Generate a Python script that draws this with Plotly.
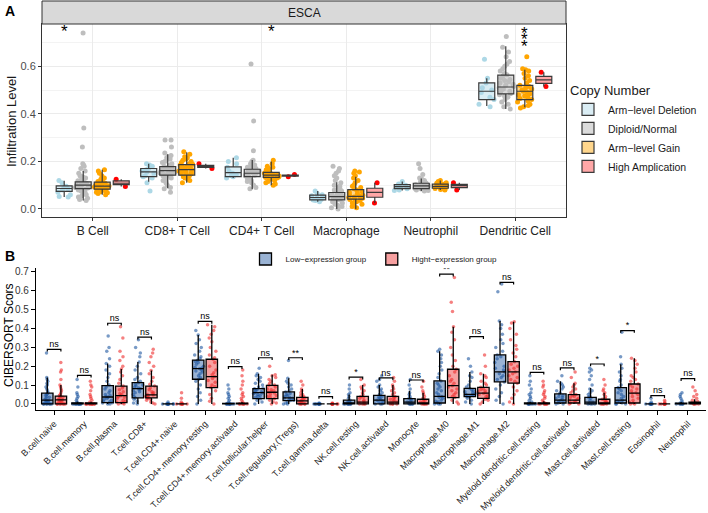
import plotly.graph_objects as go

FONT = "Liberation Sans, Arial, sans-serif"

# ---------------- panel A : ESCA infiltration by copy number ----------------
cells_a = ["B Cell", "CD8+ T Cell", "CD4+ T Cell", "Macrophage", "Neutrophil", "Dendritic Cell"]
groups_a = ["Arm−level Deletion", "Diploid/Normal", "Arm−level Gain", "High Amplication"]

del_q1 = [0.074, 0.136, 0.136, 0.038, 0.085, 0.460]
del_med = [0.086, 0.156, 0.153, 0.048, 0.094, 0.495]
del_q3 = [0.097, 0.170, 0.177, 0.058, 0.102, 0.530]
del_lo = [0.050, 0.114, 0.130, 0.030, 0.078, 0.433]
del_hi = [0.119, 0.190, 0.215, 0.075, 0.115, 0.550]

dip_q1 = [0.085, 0.142, 0.136, 0.038, 0.085, 0.484]
dip_med = [0.100, 0.161, 0.150, 0.052, 0.097, 0.513]
dip_q3 = [0.114, 0.178, 0.167, 0.069, 0.108, 0.563]
dip_lo = [0.035, 0.087, 0.083, 0.000, 0.075, 0.420]
dip_hi = [0.160, 0.230, 0.206, 0.112, 0.128, 0.684]

gain_q1 = [0.083, 0.142, 0.133, 0.041, 0.087, 0.460]
gain_med = [0.096, 0.165, 0.142, 0.053, 0.095, 0.495]
gain_q3 = [0.113, 0.186, 0.154, 0.081, 0.104, 0.520]
gain_lo = [0.060, 0.110, 0.100, 0.000, 0.080, 0.428]
gain_hi = [0.165, 0.238, 0.200, 0.135, 0.120, 0.585]

amp_q1 = [0.102, 0.175, 0.138, 0.049, 0.090, 0.528]
amp_med = [0.108, 0.179, 0.140, 0.070, 0.098, 0.543]
amp_q3 = [0.118, 0.183, 0.142, 0.087, 0.103, 0.558]
amp_lo = [0.094, 0.170, 0.135, 0.025, 0.080, 0.515]
amp_hi = [0.125, 0.190, 0.145, 0.110, 0.110, 0.575]

del_pts = [
    [0.12, 0.11, 0.095, 0.09, 0.085, 0.08, 0.07, 0.06, 0.052, 0.05],
    [0.19, 0.185, 0.18, 0.17, 0.165, 0.16, 0.155, 0.15, 0.14, 0.135, 0.13, 0.11, 0.075],
    [0.215, 0.2, 0.19, 0.175, 0.16, 0.15, 0.145, 0.14, 0.135, 0.13],
    [0.075, 0.065, 0.06, 0.055, 0.05, 0.045, 0.04, 0.038, 0.035, 0.03],
    [0.115, 0.105, 0.1, 0.095, 0.09, 0.085, 0.08, 0.078],
    [0.63, 0.55, 0.53, 0.51, 0.5, 0.49, 0.47, 0.46, 0.44, 0.43],
]
dip_pts = [
    [0.74, 0.34, 0.26, 0.19, 0.185, 0.18, 0.17, 0.16, 0.15, 0.14, 0.135, 0.13, 0.125, 0.12, 0.118, 0.115,
     0.11, 0.108, 0.105, 0.1, 0.1, 0.098, 0.095, 0.092, 0.09, 0.088, 0.085, 0.082, 0.08, 0.075, 0.07,
     0.065, 0.06, 0.055, 0.05, 0.045, 0.04, 0.035],
    [0.29, 0.29, 0.26, 0.235, 0.225, 0.22, 0.215, 0.21, 0.2, 0.195, 0.19, 0.185, 0.18, 0.178, 0.175, 0.17,
     0.168, 0.165, 0.162, 0.16, 0.158, 0.155, 0.152, 0.15, 0.148, 0.145, 0.142, 0.14, 0.135, 0.13, 0.125,
     0.12, 0.11, 0.1, 0.09, 0.085, 0.07],
    [0.61, 0.37, 0.245, 0.205, 0.2, 0.19, 0.185, 0.18, 0.175, 0.17, 0.168, 0.165, 0.16, 0.158, 0.155,
     0.152, 0.15, 0.148, 0.145, 0.142, 0.14, 0.138, 0.135, 0.13, 0.125, 0.12, 0.115, 0.11, 0.1, 0.09, 0.085],
    [0.18, 0.17, 0.16, 0.15, 0.14, 0.13, 0.12, 0.11, 0.1, 0.095, 0.09, 0.085, 0.08, 0.075, 0.07, 0.068,
     0.065, 0.062, 0.06, 0.058, 0.055, 0.052, 0.05, 0.048, 0.045, 0.042, 0.04, 0.038, 0.035, 0.032, 0.03,
     0.025, 0.02, 0.015, 0.01, 0.005, 0.0],
    [0.19, 0.17, 0.145, 0.13, 0.125, 0.12, 0.115, 0.112, 0.11, 0.108, 0.105, 0.102, 0.1, 0.098, 0.096,
     0.094, 0.092, 0.09, 0.088, 0.086, 0.084, 0.082, 0.08, 0.078, 0.075],
    [0.725, 0.68, 0.66, 0.64, 0.62, 0.61, 0.6, 0.59, 0.58, 0.57, 0.565, 0.56, 0.55, 0.545, 0.54, 0.535,
     0.53, 0.525, 0.52, 0.515, 0.51, 0.505, 0.5, 0.495, 0.49, 0.485, 0.48, 0.475, 0.47, 0.46, 0.45, 0.44,
     0.43, 0.42],
]
gain_pts = [
    [0.165, 0.16, 0.15, 0.14, 0.13, 0.125, 0.12, 0.115, 0.112, 0.11, 0.108, 0.105, 0.102, 0.1, 0.098,
     0.096, 0.094, 0.092, 0.09, 0.088, 0.086, 0.084, 0.082, 0.08, 0.078, 0.075, 0.072, 0.07, 0.068, 0.065, 0.06],
    [0.24, 0.23, 0.22, 0.215, 0.21, 0.205, 0.2, 0.195, 0.19, 0.188, 0.185, 0.18, 0.178, 0.175, 0.172, 0.17,
     0.168, 0.165, 0.162, 0.16, 0.158, 0.155, 0.152, 0.15, 0.148, 0.145, 0.14, 0.135, 0.13, 0.125, 0.12, 0.11],
    [0.205, 0.19, 0.18, 0.175, 0.17, 0.165, 0.16, 0.158, 0.155, 0.152, 0.15, 0.148, 0.145, 0.142, 0.14,
     0.138, 0.136, 0.134, 0.132, 0.13, 0.128, 0.125, 0.12, 0.115, 0.11, 0.105, 0.1],
    [0.16, 0.155, 0.15, 0.14, 0.13, 0.12, 0.11, 0.1, 0.095, 0.09, 0.085, 0.08, 0.075, 0.07, 0.065, 0.06,
     0.058, 0.055, 0.052, 0.05, 0.048, 0.045, 0.042, 0.04, 0.035, 0.03, 0.025, 0.02, 0.015, 0.01, 0.005],
    [0.12, 0.115, 0.11, 0.108, 0.105, 0.103, 0.1, 0.098, 0.096, 0.094, 0.092, 0.09, 0.088, 0.086, 0.084,
     0.082, 0.08],
    [0.64, 0.59, 0.585, 0.58, 0.57, 0.56, 0.55, 0.54, 0.53, 0.52, 0.515, 0.51, 0.505, 0.5, 0.495, 0.49,
     0.485, 0.48, 0.475, 0.47, 0.465, 0.46, 0.455, 0.45, 0.44, 0.435, 0.43, 0.425],
]
amp_pts = [
    [0.125, 0.094],
    [0.19, 0.17],
    [0.145, 0.135],
    [0.11, 0.025],
    [0.11, 0.08],
    [0.575, 0.515],
]

sig_a = ["*", "", "*", "", "", "***"]
sig_grp_a = [0, 0, 2, 0, 0, 2]
sig_y_a = [0.745, 0, 0.745, 0, 0, 0.712]

# ---------------- panel B : CIBERSORT low vs high expression ----------------
cells_b = ["B.cell.naive", "B.cell.memory", "B.cell.plasma", "T.cell.CD8+", "T.cell.CD4+.naive",
           "T.cell.CD4+.memory.resting", "T.cell.CD4+.memory.activated", "T.cell.follicular.helper",
           "T.cell.regulatory.(Tregs)", "T.cell.gamma.delta", "NK.cell.resting", "NK.cell.activated",
           "Monocyte", "Macrophage.M0", "Macrophage.M1", "Macrophage.M2", "Myeloid.dendritic.cell.resting",
           "Myeloid.dendritic.cell.activated", "Mast.cell.activated", "Mast.cell.resting", "Eosinophil",
           "Neutrophil"]
groups_b = ["Low−expression group", "Hight−expression group"]

low_q1 = [0, 0, 0.007, 0.032, 0, 0.131, 0, 0.028, 0.018, 0, 0, 0, 0, 0.005, 0.039, 0.117, 0, 0.005, 0, 0.005, 0, 0]
low_med = [0.02, 0, 0.037, 0.081, 0, 0.187, 0, 0.06, 0.032, 0, 0, 0.02, 0.01, 0.04, 0.051, 0.17, 0, 0.02, 0.01, 0.02, 0, 0]
low_q3 = [0.057, 0.005, 0.097, 0.113, 0, 0.232, 0.003, 0.081, 0.064, 0, 0.02, 0.046, 0.028, 0.122, 0.083, 0.26,
          0.005, 0.053, 0.035, 0.087, 0, 0.004]
low_lo = [0] * 22
low_hi = [0.14, 0.012, 0.215, 0.223, 0, 0.366, 0.007, 0.16, 0.136, 0, 0.05, 0.1, 0.07, 0.28, 0.17, 0.44, 0.012,
          0.12, 0.085, 0.21, 0, 0.01]

high_q1 = [0, 0, 0.007, 0.032, 0, 0.087, 0, 0.028, 0, 0, 0, 0, 0, 0.034, 0.03, 0.11, 0, 0.005, 0, 0.005, 0, 0]
high_med = [0.022, 0, 0.044, 0.048, 0, 0.145, 0, 0.062, 0.016, 0, 0.01, 0.01, 0.005, 0.097, 0.057, 0.17, 0, 0.02,
            0.005, 0.057, 0, 0]
high_q3 = [0.042, 0.005, 0.095, 0.095, 0, 0.237, 0.004, 0.099, 0.035, 0, 0.04, 0.04, 0.025, 0.184, 0.088, 0.224,
           0.006, 0.05, 0.025, 0.106, 0, 0.01]
high_lo = [0] * 22
high_hi = [0.1, 0.012, 0.185, 0.177, 0, 0.42, 0.01, 0.155, 0.08, 0, 0.1, 0.1, 0.06, 0.41, 0.16, 0.436, 0.015,
           0.11, 0.06, 0.242, 0, 0.025]

low_pts = [
    [0.27, 0.14, 0.13, 0.12, 0.11, 0.1, 0.09, 0.08, 0.07, 0.06, 0.055, 0.05, 0.045, 0.04, 0.035, 0.03, 0.025,
     0.02, 0.02, 0.015, 0.01, 0.01, 0.005, 0, 0, 0, 0, 0, 0, 0],
    [0.13, 0.09, 0.06, 0.05, 0.04, 0.03, 0.02, 0.01, 0.005, 0, 0, 0, 0, 0, 0, 0, 0, 0, 0, 0],
    [0.36, 0.3, 0.28, 0.24, 0.215, 0.2, 0.18, 0.16, 0.14, 0.12, 0.1, 0.09, 0.08, 0.07, 0.06, 0.05, 0.045, 0.04,
     0.037, 0.03, 0.025, 0.02, 0.015, 0.01, 0.007, 0.005, 0, 0],
    [0.34, 0.3, 0.27, 0.25, 0.223, 0.2, 0.18, 0.16, 0.14, 0.13, 0.12, 0.113, 0.105, 0.1, 0.095, 0.09, 0.085,
     0.081, 0.075, 0.07, 0.065, 0.06, 0.05, 0.04, 0.032, 0.025, 0.015, 0.005, 0],
    [0.01, 0, 0, 0, 0, 0, 0, 0, 0, 0, 0],
    [0.39, 0.366, 0.34, 0.32, 0.3, 0.28, 0.26, 0.25, 0.24, 0.232, 0.225, 0.22, 0.21, 0.2, 0.195, 0.19, 0.187,
     0.18, 0.175, 0.17, 0.16, 0.15, 0.14, 0.131, 0.12, 0.1, 0.08, 0.06, 0.04, 0.02, 0],
    [0.1, 0.08, 0.06, 0.05, 0.04, 0.03, 0.02, 0.01, 0, 0, 0, 0, 0, 0, 0, 0, 0, 0],
    [0.19, 0.16, 0.15, 0.14, 0.13, 0.12, 0.11, 0.1, 0.09, 0.085, 0.081, 0.075, 0.07, 0.065, 0.06, 0.058, 0.055,
     0.05, 0.045, 0.04, 0.035, 0.028, 0.02, 0.01, 0],
    [0.23, 0.136, 0.12, 0.11, 0.1, 0.09, 0.08, 0.07, 0.064, 0.055, 0.05, 0.045, 0.04, 0.035, 0.032, 0.03, 0.025,
     0.02, 0.018, 0.01, 0.005, 0, 0],
    [0.005, 0, 0, 0, 0, 0, 0, 0, 0, 0],
    [0.1, 0.08, 0.06, 0.05, 0.04, 0.03, 0.02, 0.015, 0.01, 0.005, 0, 0, 0, 0, 0, 0, 0, 0],
    [0.15, 0.13, 0.12, 0.1, 0.09, 0.08, 0.07, 0.06, 0.05, 0.046, 0.04, 0.035, 0.03, 0.025, 0.02, 0.015, 0.01,
     0.005, 0, 0, 0],
    [0.13, 0.1, 0.08, 0.06, 0.05, 0.04, 0.03, 0.028, 0.02, 0.015, 0.01, 0.005, 0, 0, 0, 0, 0],
    [0.29, 0.28, 0.26, 0.24, 0.22, 0.2, 0.18, 0.16, 0.14, 0.122, 0.11, 0.1, 0.09, 0.08, 0.07, 0.06, 0.05, 0.04,
     0.035, 0.03, 0.02, 0.015, 0.01, 0.005, 0, 0, 0],
    [0.24, 0.2, 0.17, 0.15, 0.14, 0.12, 0.1, 0.09, 0.083, 0.075, 0.07, 0.065, 0.06, 0.055, 0.051, 0.048, 0.045,
     0.04, 0.039, 0.03, 0.02, 0.01, 0],
    [0.636, 0.595, 0.44, 0.42, 0.4, 0.37, 0.34, 0.32, 0.3, 0.28, 0.26, 0.25, 0.24, 0.22, 0.2, 0.19, 0.18, 0.17,
     0.16, 0.15, 0.14, 0.13, 0.117, 0.1, 0.08, 0.06, 0.04, 0.02, 0],
    [0.15, 0.12, 0.1, 0.08, 0.06, 0.05, 0.04, 0.03, 0.02, 0.01, 0.005, 0, 0, 0, 0, 0, 0, 0],
    [0.15, 0.12, 0.11, 0.1, 0.09, 0.08, 0.07, 0.06, 0.053, 0.045, 0.04, 0.035, 0.03, 0.025, 0.02, 0.015, 0.01,
     0.005, 0, 0],
    [0.19, 0.18, 0.17, 0.15, 0.13, 0.1, 0.08, 0.07, 0.06, 0.05, 0.04, 0.035, 0.03, 0.02, 0.01, 0.005, 0, 0, 0, 0],
    [0.38, 0.25, 0.21, 0.19, 0.17, 0.15, 0.13, 0.12, 0.1, 0.087, 0.08, 0.07, 0.06, 0.05, 0.04, 0.03, 0.02,
     0.015, 0.01, 0.005, 0, 0, 0],
    [0.03, 0.01, 0, 0, 0, 0, 0, 0, 0, 0],
    [0.06, 0.05, 0.04, 0.03, 0.02, 0.01, 0.005, 0, 0, 0, 0, 0, 0],
]
high_pts = [
    [0.22, 0.18, 0.17, 0.13, 0.1, 0.09, 0.08, 0.07, 0.06, 0.05, 0.045, 0.04, 0.035, 0.03, 0.025, 0.022, 0.02,
     0.015, 0.01, 0.01, 0.005, 0, 0, 0, 0, 0, 0, 0],
    [0.12, 0.1, 0.09, 0.07, 0.05, 0.04, 0.03, 0.02, 0.01, 0, 0, 0, 0, 0, 0, 0, 0, 0, 0, 0],
    [0.41, 0.35, 0.28, 0.25, 0.23, 0.2, 0.185, 0.17, 0.15, 0.13, 0.11, 0.095, 0.085, 0.075, 0.065, 0.055, 0.05,
     0.044, 0.04, 0.035, 0.03, 0.02, 0.015, 0.01, 0.007, 0.005, 0, 0],
    [0.29, 0.27, 0.25, 0.22, 0.2, 0.177, 0.16, 0.14, 0.12, 0.105, 0.095, 0.085, 0.075, 0.065, 0.06, 0.055, 0.05,
     0.048, 0.045, 0.04, 0.035, 0.032, 0.03, 0.025, 0.02, 0.01, 0.005, 0],
    [0.06, 0.03, 0.01, 0, 0, 0, 0, 0, 0, 0, 0],
    [0.42, 0.41, 0.39, 0.37, 0.35, 0.33, 0.3, 0.28, 0.26, 0.245, 0.237, 0.22, 0.2, 0.18, 0.165, 0.155, 0.145,
     0.135, 0.125, 0.115, 0.1, 0.092, 0.087, 0.07, 0.05, 0.03, 0.015, 0],
    [0.18, 0.15, 0.12, 0.1, 0.08, 0.06, 0.05, 0.04, 0.03, 0.02, 0.01, 0, 0, 0, 0, 0, 0, 0],
    [0.2, 0.155, 0.15, 0.14, 0.13, 0.12, 0.11, 0.1, 0.099, 0.09, 0.08, 0.075, 0.07, 0.065, 0.062, 0.058, 0.05,
     0.045, 0.04, 0.035, 0.028, 0.02, 0.01, 0.005, 0],
    [0.12, 0.1, 0.08, 0.07, 0.06, 0.05, 0.045, 0.04, 0.035, 0.03, 0.025, 0.02, 0.016, 0.01, 0.008, 0.005, 0, 0,
     0, 0, 0],
    [0.005, 0, 0, 0, 0, 0, 0, 0, 0, 0],
    [0.13, 0.1, 0.09, 0.08, 0.07, 0.06, 0.05, 0.04, 0.035, 0.03, 0.02, 0.015, 0.01, 0.005, 0, 0, 0, 0],
    [0.14, 0.12, 0.1, 0.09, 0.08, 0.07, 0.06, 0.05, 0.04, 0.035, 0.03, 0.025, 0.02, 0.015, 0.01, 0.005, 0, 0,
     0, 0],
    [0.12, 0.09, 0.07, 0.06, 0.05, 0.04, 0.03, 0.025, 0.02, 0.015, 0.01, 0.005, 0, 0, 0, 0, 0],
    [0.67, 0.54, 0.49, 0.41, 0.38, 0.34, 0.3, 0.26, 0.23, 0.2, 0.184, 0.17, 0.15, 0.13, 0.12, 0.11, 0.097, 0.09,
     0.08, 0.07, 0.06, 0.05, 0.04, 0.034, 0.02, 0.01, 0],
    [0.26, 0.2, 0.16, 0.15, 0.14, 0.12, 0.11, 0.1, 0.088, 0.08, 0.075, 0.07, 0.065, 0.06, 0.057, 0.05, 0.045,
     0.04, 0.03, 0.025, 0.02, 0.01, 0],
    [0.436, 0.43, 0.4, 0.37, 0.34, 0.31, 0.29, 0.27, 0.25, 0.224, 0.21, 0.2, 0.19, 0.18, 0.17, 0.16, 0.15, 0.14,
     0.13, 0.12, 0.11, 0.09, 0.07, 0.05, 0.03, 0.01, 0],
    [0.12, 0.1, 0.09, 0.07, 0.06, 0.05, 0.04, 0.03, 0.02, 0.01, 0.005, 0, 0, 0, 0, 0, 0, 0],
    [0.17, 0.14, 0.11, 0.1, 0.09, 0.08, 0.07, 0.06, 0.05, 0.045, 0.04, 0.035, 0.03, 0.025, 0.02, 0.015, 0.01,
     0.005, 0, 0],
    [0.13, 0.1, 0.08, 0.07, 0.06, 0.05, 0.04, 0.03, 0.025, 0.02, 0.015, 0.01, 0.005, 0, 0, 0, 0, 0],
    [0.242, 0.23, 0.21, 0.19, 0.17, 0.15, 0.14, 0.13, 0.12, 0.106, 0.1, 0.09, 0.08, 0.07, 0.06, 0.057, 0.05,
     0.04, 0.03, 0.02, 0.01, 0.005, 0, 0],
    [0.02, 0.01, 0, 0, 0, 0, 0, 0, 0, 0],
    [0.09, 0.07, 0.05, 0.04, 0.03, 0.02, 0.015, 0.01, 0.005, 0, 0, 0, 0],
]

sig_b = ["ns", "ns", "ns", "ns", "", "ns", "ns", "ns", "**", "ns", "*", "ns", "ns", "**", "ns", "ns", "ns",
         "ns", "*", "*", "ns", "ns"]
sig_y_b = [0.29, 0.152, 0.428, 0.354, 0, 0.438, 0.198, 0.245, 0.245, 0.039, 0.142, 0.138, 0.127, 0.688,
           0.357, 0.645, 0.168, 0.191, 0.212, 0.389, 0.044, 0.134]

# ---------------- styling ----------------
BOXGAP = 0.1
pt_colors_a = ["#ADD8E6", "#BEBEBE", "#FFA500", "#FF0000"]
fill_colors_a = ["rgba(173,216,230,0.45)", "rgba(190,190,190,0.55)", "rgba(255,165,0,0.45)",
                 "rgba(255,80,80,0.5)"]
pt_colors_b = ["#1E56A0", "#EE2C2C"]
fill_colors_b = ["rgba(30,86,160,0.45)", "rgba(238,44,44,0.45)"]

fig = go.Figure()


def add_group(xs_pos, stats, pts, name, og, ag, xa, ya, pcol, fcol, lcol, lw, psize, popac, legend):
    q1, med, q3, lo, hi = stats
    px = [xs_pos[i] for i, vals in enumerate(pts) for _ in vals]
    py = [v for vals in pts for v in vals]
    fig.add_trace(go.Box(
        x=px, y=py, xaxis=xa, yaxis=ya, offsetgroup=og, alignmentgroup=ag,
        boxpoints="all", jitter=1.0, pointpos=0, fillcolor="rgba(0,0,0,0)",
        line=dict(width=0, color="rgba(0,0,0,0)"),
        marker=dict(color=pcol, size=psize, opacity=popac),
        showlegend=False, hoverinfo="skip",
    ))
    return dict(x=xs_pos, q1=q1, median=med, q3=q3, lowerfence=lo, upperfence=hi, name=name,
                xaxis=xa, yaxis=ya, offsetgroup=og, alignmentgroup=ag, boxpoints=False,
                fillcolor=fcol, whiskerwidth=0, line=dict(color=lcol, width=lw), legend=legend)


xa_pos = list(range(len(cells_a)))
xb_pos = list(range(len(cells_b)))

stats_a = [
    (del_q1, del_med, del_q3, del_lo, del_hi),
    (dip_q1, dip_med, dip_q3, dip_lo, dip_hi),
    (gain_q1, gain_med, gain_q3, gain_lo, gain_hi),
    (amp_q1, amp_med, amp_q3, amp_lo, amp_hi),
]
pts_a = [del_pts, dip_pts, gain_pts, amp_pts]
stats_b = [
    (low_q1, low_med, low_q3, low_lo, low_hi),
    (high_q1, high_med, high_q3, high_lo, high_hi),
]
pts_b = [low_pts, high_pts]

box_specs = []
for g, name in enumerate(groups_a):
    box_specs.append(add_group(xa_pos, stats_a[g], pts_a[g], name, "a%d" % g, "A", "x", "y",
                               pt_colors_a[g], fill_colors_a[g], "#3A3A3A", 1.2, 5, 1.0, "legend"))
for g, name in enumerate(groups_b):
    box_specs.append(add_group(xb_pos, stats_b[g], pts_b[g], name, "b%d" % g, "B", "x2", "y2",
                               pt_colors_b[g], fill_colors_b[g], "#000000", 1.3, 3.5, 0.6, "legend2"))
for spec in box_specs:
    fig.add_trace(go.Box(**spec))

# significance brackets, panel B
slot_b = (1 - BOXGAP) / len(groups_b)
half = slot_b / 2
tick = 0.012
bx, by, tx, ty, tt = [], [], [], [], []
for i, (lab, h) in enumerate(zip(sig_b, sig_y_b)):
    if not lab:
        continue
    bx += [i - half, i - half, i + half, i + half, None]
    by += [h - tick, h, h, h - tick, None]
    tx.append(i)
    ty.append(h)
    tt.append(lab)
fig.add_trace(go.Scatter(x=bx, y=by, xaxis="x2", yaxis="y2", mode="lines",
                         line=dict(color="black", width=1.2), showlegend=False, hoverinfo="skip"))
fig.add_trace(go.Scatter(x=tx, y=ty, xaxis="x2", yaxis="y2", mode="text", text=tt,
                         textposition="top center", textfont=dict(size=9, color="black", family=FONT),
                         showlegend=False, hoverinfo="skip"))

# significance stars, panel A (multiple stars stacked vertically, as in the original)
slot_a = (1 - BOXGAP) / len(groups_a)
for i, (lab, g, h) in enumerate(zip(sig_a, sig_grp_a, sig_y_a)):
    n = len(lab)
    for k in range(n):
        fig.add_annotation(x=i + (g - (len(groups_a) - 1) / 2) * slot_a, y=h, xref="x", yref="y",
                           text="*", showarrow=False, yshift=((n - 1) / 2 - k) * 6.5,
                           font=dict(size=17, color="black", family=FONT))

# panel geometry (pixels -> paper)
W, H = 708, 513
ax_a = [42 / W, 566 / W]
ay_a = [1 - 217 / H, 1 - 24 / H]
ax_b = [36 / W, 706 / W]
ay_b = [1 - 410 / H, 1 - 268 / H]


def label(x, y, text, size, color="black", angle=0, xanchor="center"):
    fig.add_annotation(xref="paper", yref="paper", x=x / W, y=1 - y / H, text=text, showarrow=False,
                       textangle=angle, xanchor=xanchor, yanchor="middle",
                       font=dict(size=size, color=color, family=FONT))


# facet strip for panel A
fig.add_shape(type="rect", xref="paper", yref="paper", x0=ax_a[0], x1=ax_a[1], y0=ay_a[1], y1=1 - 1 / H,
              fillcolor="#D9D9D9", line=dict(color="#333333", width=1))
label((42 + 566) / 2, 12.5, "ESCA", 12, "#1A1A1A")
label(3, 11.5, "<b>A</b>", 14, xanchor="left")
label(3, 256, "<b>B</b>", 14, xanchor="left")
label(11, 122, "Infiltration Level", 13, "#1A1A1A", angle=-90)
label(9, 335, "CIBERSORT Scors", 12, angle=-90)

fig.update_layout(
    width=W, height=H, margin=dict(l=0, r=0, t=0, b=0, autoexpand=False),
    paper_bgcolor="white", plot_bgcolor="white",
    font=dict(family=FONT, color="#1A1A1A"),
    boxmode="group", boxgap=BOXGAP, boxgroupgap=0.16,
    xaxis=dict(domain=ax_a, anchor="y", range=[-0.6, len(cells_a) - 0.4], tickvals=xa_pos,
               ticktext=cells_a, showgrid=True, gridcolor="#EBEBEB", gridwidth=1.1, zeroline=False,
               showline=True, mirror=True, linecolor="#333333", linewidth=1, automargin=False,
               ticks="outside", ticklen=3, tickcolor="#333333",
               tickfont=dict(size=12, color="#222222")),
    yaxis=dict(domain=ay_a, anchor="x", range=[-0.034, 0.778], tickvals=[0, 0.2, 0.4, 0.6],
               ticktext=["0.0", "0.2", "0.4", "0.6"], showgrid=True, gridcolor="#EBEBEB", gridwidth=1.1,
               minor=dict(tickvals=[0.1, 0.3, 0.5, 0.7], showgrid=True, gridcolor="#F3F3F3", gridwidth=0.6),
               zeroline=False, showline=True, mirror=True, linecolor="#333333", linewidth=1,
               ticks="outside", ticklen=3, tickcolor="#333333", automargin=False,
               tickfont=dict(size=11, color="#4D4D4D")),
    xaxis2=dict(domain=ax_b, anchor="y2", range=[-0.6, len(cells_b) - 0.4], tickvals=xb_pos,
                ticktext=cells_b, tickangle=-45, showgrid=False, zeroline=False, showline=True,
                linecolor="black", linewidth=1.2, ticks="outside", ticklen=4, tickcolor="black",
                automargin=False, tickfont=dict(size=9, color="#222222")),
    yaxis2=dict(domain=ay_b, anchor="x2", range=[-0.032, 0.721], dtick=0.1, tickformat=".1f",
                showgrid=False, zeroline=False, showline=True, linecolor="black", linewidth=1.2,
                ticks="outside", ticklen=4, tickcolor="black", automargin=False,
                tickfont=dict(size=10, color="#333333")),
    legend=dict(x=568 / W, y=1 - 78 / H, xanchor="left", yanchor="top", bgcolor="rgba(0,0,0,0)",
                title=dict(text="Copy Number", font=dict(size=13, color="#1A1A1A")),
                font=dict(size=10.5, color="#1A1A1A"), traceorder="normal", itemwidth=30),
    legend2=dict(orientation="h", x=374 / W, y=1 - 259 / H, xanchor="center", yanchor="middle",
                 bgcolor="rgba(0,0,0,0)", font=dict(size=8, color="#1A1A1A"), itemwidth=30),
)

# the page's default 8px body margin would push the fixed-size figure off the window
fig.write_html("out.html", config={"displayModeBar": False},
               post_script="document.body.style.margin='0';")
